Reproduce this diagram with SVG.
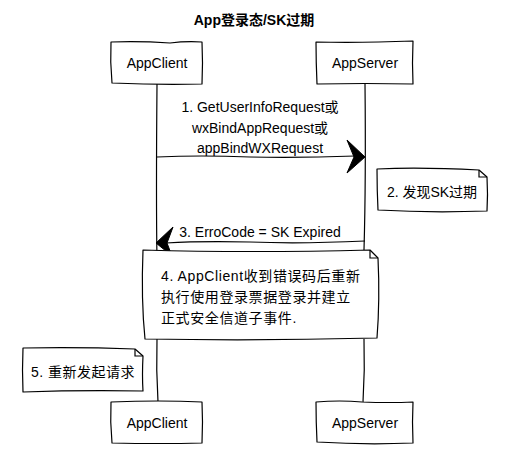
<svg xmlns="http://www.w3.org/2000/svg" width="511" height="468" viewBox="0 0 511 468">
<style>
.shape{fill:#fff;stroke:#000;stroke-width:1.2;stroke-linejoin:round}
.line{fill:none;stroke:#000;stroke-width:1.2}
.head{fill:#000;stroke:#000;stroke-width:1;stroke-linejoin:round}
.t{font-family:"Liberation Sans","Noto Sans CJK SC",sans-serif;font-size:14px;fill:#000;text-anchor:middle}
.l{text-anchor:start;letter-spacing:0.6px}
.title{font-weight:bold}
</style>
<rect width="511" height="468" fill="#fff"/>
<text class="t title" x="254" y="25">App登录态/SK过期</text>
<g id="lifelines">
<path class="line" d="M157 84 Q156 200 157 260 M157 338 Q156 370 158 402"/>
<path class="line" d="M365 84 Q366 180 364 250 M364 339 Q365 370 363 402"/>
</g>
<g id="connectors">
<g id="msg1">
<path class="line" d="M157 157 Q200 155 250 157 Q300 158 355 156"/>
<path class="head" d="M365 157 L347 140 L354 157 L347 173 Z"/>
<text class="t" x="260" y="112">1. GetUserInfoRequest或</text>
<text class="t" x="260" y="133">wxBindAppRequest或</text>
<text class="t" x="260" y="153">appBindWXRequest</text>
</g>
<g id="msg3">
<path class="line" d="M365 241 Q300 244 250 242 Q200 241 166 243"/>
<path class="head" d="M156 243 L173 227 L167 243 L172 256 Z"/>
<text class="t" x="260" y="237">3. ErroCode = SK Expired</text>
</g>
</g>
<g id="client-top">
<path class="shape" d="M111 42 Q140 41 170 43 Q186 41 202 42 Q203 63 202 84 Q160 85 112 83 Q110 62 111 42 Z"/>
<text class="t" x="157" y="68">AppClient</text>
</g>
<g id="server-top">
<path class="shape" d="M316 42 Q360 43 413 41 Q412 63 413 84 Q365 83 317 84 Q316 62 316 42 Z"/>
<text class="t" x="365" y="68">AppServer</text>
</g>
<g id="note2">
<path class="shape" d="M377 169 Q420 167 479 170 L487 177 Q488 195 487 211 Q430 213 378 210 Q377 190 377 169 Z"/>
<path class="line" d="M479 170 L479 177 L487 177"/>
<text class="t" x="432" y="197">2. 发现SK过期</text>
</g>
<g id="note4">
<path class="shape" d="M143 250 Q250 253 370 250 L378 258 Q380 300 377 338 Q260 341 145 339 Q141 300 143 250 Z"/>
<path class="line" d="M370 250 L370 258 L378 258"/>
<text class="t l" x="161" y="281">4. AppClient收到错误码后重新</text>
<text class="t l" x="161" y="302">执行使用登录票据登录并建立</text>
<text class="t l" x="161" y="323">正式安全信道子事件.</text>
</g>
<g id="note5">
<path class="shape" d="M23 348 Q80 347 135 349 L143 356 Q142 375 143 391 Q80 390 23 392 Q22 370 23 348 Z"/>
<path class="line" d="M135 349 L135 356 L143 356"/>
<text class="t" x="83" y="377" style="letter-spacing:0.5px">5. 重新发起请求</text>
</g>
<g id="client-bottom">
<path class="shape" d="M111 402 Q160 400 202 402 Q203 422 202 443 Q160 444 112 443 Q110 422 111 402 Z"/>
<text class="t" x="157" y="428">AppClient</text>
</g>
<g id="server-bottom">
<path class="shape" d="M316 402 Q340 400 362 402 Q390 403 413 402 Q412 422 413 443 Q365 445 317 442 Q316 422 316 402 Z"/>
<text class="t" x="365" y="428">AppServer</text>
</g>
</svg>
